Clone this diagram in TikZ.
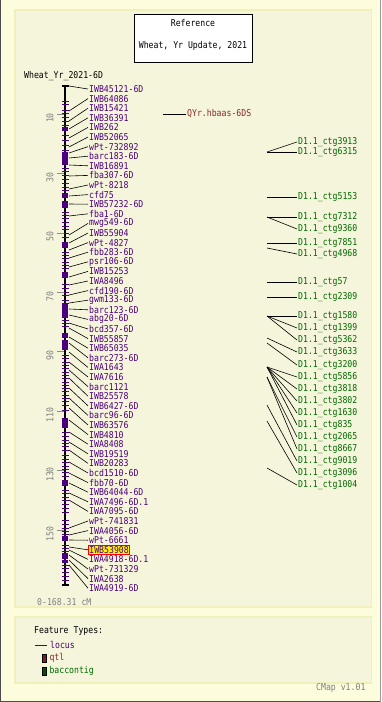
\documentclass[tikz,border=0pt]{standalone}
\usepackage{fontspec}
\newfontfamily\mapfont[FakeStretch=0.87]{DejaVu Sans Mono}
\usetikzlibrary{positioning}

\definecolor{outerbg}{RGB}{253,253,222}
\definecolor{panelbg}{RGB}{245,245,220}
\definecolor{panelrim}{RGB}{240,240,186}
\definecolor{locuscol}{RGB}{75,0,125}
\definecolor{qtlcol}{RGB}{140,40,35}
\definecolor{ctgcol}{RGB}{0,105,0}

\begin{document}
\begin{tikzpicture}[x=1pt, y=-1pt,
  txt/.style={inner sep=0pt, font=\mapfont\fontsize{9.4}{10}\selectfont},
  lbl/.style={txt, anchor=west, inner xsep=1pt, text=locuscol},
  qlbl/.style={txt, anchor=west, inner xsep=1pt, text=qtlcol},
  clbl/.style={txt, anchor=west, inner xsep=1pt, text=ctgcol},
  hl/.style={draw=red, fill=yellow, line width=0.8pt, inner ysep=1pt},
  conn/.style={black, line width=0.6pt},
  locustick/.style={locuscol, line width=1pt},
  scl/.style={txt, text=black!50, rotate=90},
  scltick/.style={black!45, line width=0.7pt},
  panel/.style={fill=panelbg, draw=panelrim, line width=1.5pt},
  swatch/.style={draw=black, line width=0.5pt, minimum width=3.5pt, minimum height=8pt, inner sep=0pt}
]
\useasboundingbox (0,0) rectangle (381,702);
\fill[outerbg] (0,0) rectangle (381,702);
\draw[black!70, line width=1pt] (0.5,0) -- (0.5,701.5) -- (381,701.5);
\draw[black!40, line width=0.6pt] (380.7,0) -- (380.7,701.5);

% --- Panels ---
\draw[panel] (15,10) rectangle (371.5,607);
\draw[panel] (15,617) rectangle (371.5,683);

% --- Reference box ---
\node[draw, fill=white, line width=0.8pt, minimum width=118pt, minimum height=48pt] (refbox) at (193,38) {};
\node[txt] (reftitle) at (193,22.7) {Reference};
\node[txt] (refset) at (193,45.7) {Wheat, Yr Update, 2021};

\node[txt, anchor=west] (maptitle) at (24,76) {Wheat\_Yr\_2021-6D};

% --- Chromosome ---
\draw[line width=2pt] (65,86) -- (65,585);
\draw[line width=1.5pt] (61.5,86) -- (68.5,86);
\draw[line width=1.5pt] (61.5,585) -- (68.5,585);

\foreach \t in {101,104,110,113,117,121,125,135,140,145,150,168,171,175,179,183,187,190,
  212,215,218,222,226,229,233,237,252,255,258,262,265,268,284,288,292,295,300,303,
  320,323,326,355,358,362,365,368,372,375,378,382,385,388,391,395,398,401,405,410,
  432,436,440,443,446,450,455,459,462,466,469,472,476,490,493,497,500,504,508,512,
  520,524,528,531,534,545,548,551,565,568,572,576,580}
  \draw[locustick] (61.5,\t) -- (68.5,\t);

\foreach \a/\b in {127/131,152/165,193/198,201/208,242/248,272/278,304/318,
  333/338,340/350,418/428,480/486,536/541,553/559,560/563}
  \fill[locuscol] (62,\a) rectangle (68,\b);

% --- Scale ---
\foreach \v in {10,30,...,150} {
  \pgfmathsetmacro\sy{84.3+2.971*\v}
  \draw[scltick] (57,\sy) -- (64,\sy);
  \node[scl] at (50,\sy+4) {\v};
}
\node[txt, anchor=west, text=black!50] (range) at (37,602) {0-168.31 cM};

% --- Loci ---
\foreach \nm/\by [count=\i, evaluate=\i as \ly using 89+9.6*(\i-1)] in {
  IWB45121-6D/86, IWB64086/111, IWB15421/121, IWB36391/129, IWB262/138,
  IWB52065/147, wPt-732892/153, barc183-6D/158, IWB16891/165, fba307-6D/176,
  wPt-8218/189, cfd75/196, IWB57232-6D/204, fba1-6D/216, mwg549-6D/235,
  IWB55904/243, wPt-4827/250, fbb283-6D/258, psr106-6D/267, IWB15253/277,
  IWA8496/285, cfd190-6D/295, gwm133-6D/303, barc123-6D/309, abg20-6D/315,
  bcd357-6D/323, IWB55857/328, IWB65035/337, barc273-6D/343, IWA1643/352,
  IWA7616/362, barc1121/370, IWB25578/378, IWB6427-6D/388, barc96-6D/398,
  IWB63576/408, IWB4810/420, IWA8408/432, IWB19519/442, IWB20283/450,
  bcd1510-6D/462, fbb70-6D/473, IWB64044-6D/483, IWA7496-6D.1/493, IWA7095-6D/500,
  wPt-741831/528, IWA4056-6D/535, wPt-6661/540, IWB53908/547, IWA4918-6D.1/550,
  wPt-731329/555, IWA2638/560, IWA4919-6D/565} {
  \ifnum\i=49
    \node[lbl, hl] (l\i) at (88,\ly) {\nm};
  \else
    \node[lbl] (l\i) at (88,\ly) {\nm};
  \fi
  \coordinate (b\i) at (69,\by);
  \draw[conn] (b\i) -- (l\i.west);
}

% --- QTL ---
\coordinate (qa) at (163,114);
\node[qlbl] (q1) at (186,114) {QYr.hbaas-6DS};
\draw[conn] (qa) -- (q1.west);

% --- BAC contigs ---
\foreach \cn/\ay/\ly [count=\i] in {
  3913/152/142, 6315/152/152, 5153/197/197, 7312/217/217, 9360/217/229,
  7851/243/243, 4968/248/254, 57/282/282, 2309/297/297, 1580/316/316,
  1399/316/328, 5362/316/340, 3633/338/352, 3200/343/365, 5856/367/377,
  3818/367/389, 3802/367/401, 1630/367/413, 835/367/425, 2065/377/437,
  8667/377/449, 9019/405/461, 3096/421/473, 1004/468/485} {
  \coordinate (ca\i) at (267,\ay);
  \node[clbl] (c\i) at (297,\ly) {D1.1\_ctg\cn};
  \draw[conn] (ca\i) -- (c\i.west);
}

% --- Legend ---
\node[txt, anchor=west] (ftypes) at (34,631) {Feature Types:};
\coordinate (lgla) at (35,645);
\coordinate (lglb) at (47,645);
\draw[locuscol, line width=0.9pt] (lgla) -- (lglb);
\node[lbl, right=2pt of lglb] (lgltxt) {locus};
\node[swatch, fill=qtlcol!85!black] (qsw) at (44.3,658) {};
\node[qlbl, right=2pt of qsw] (qswtxt) {qtl};
\node[swatch, fill=ctgcol!80!black] (csw) at (44.3,671) {};
\node[clbl, right=2pt of csw] (cswtxt) {baccontig};

\node[txt, anchor=west, text=black!50] (version) at (316,688) {CMap v1.01};
\end{tikzpicture}
\end{document}
